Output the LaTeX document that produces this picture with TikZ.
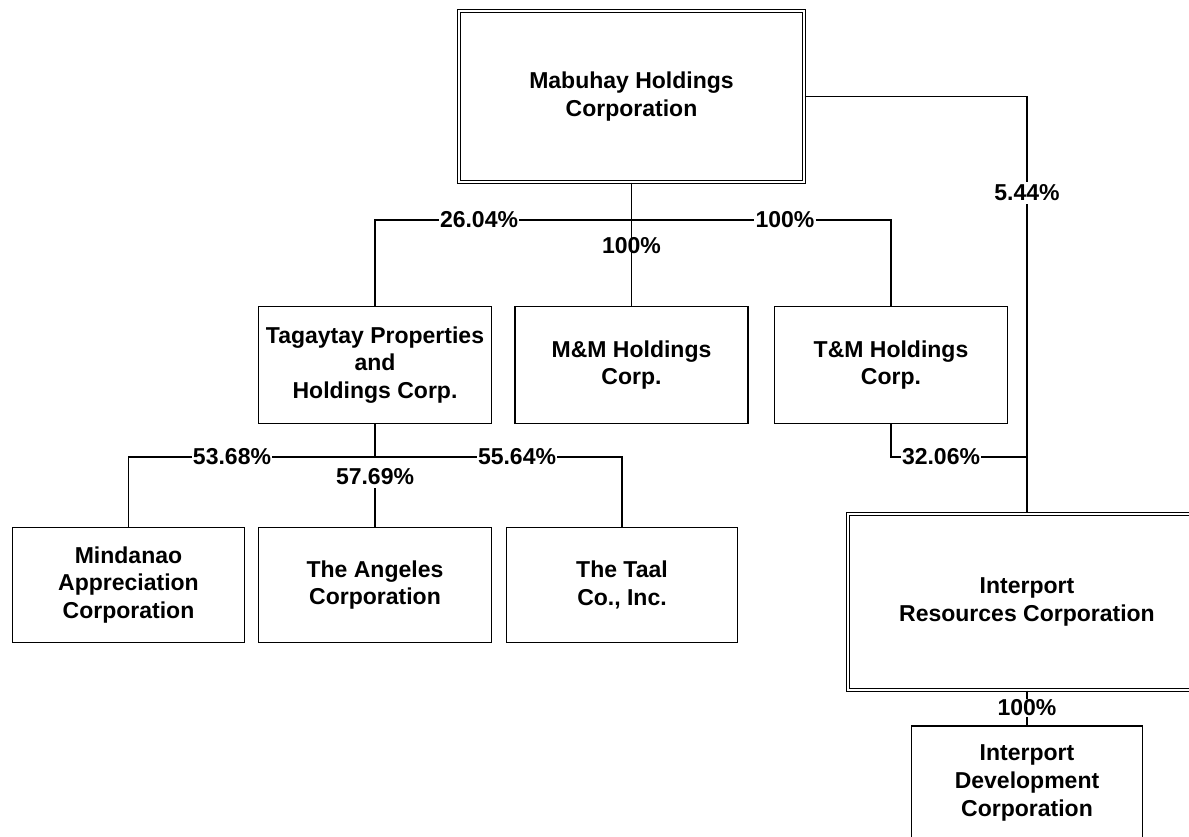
\documentclass[tikz,border=0pt]{standalone}
\usepackage{fontspec}
\setmainfont{Liberation Sans}
\begin{document}
\begin{tikzpicture}[x=1pt,y=-1pt,
  txt/.style={font=\bfseries\fontsize{23}{27.6}\selectfont},
  box/.style={txt, draw, line width=1.3pt, align=center, inner sep=0pt},
  dbox/.style={txt, draw, double, double distance=2.6pt, line width=1.1pt, align=center, inner sep=0pt},
  pct/.style={txt, fill=white, inner xsep=1pt, inner ysep=3pt},
  pctnf/.style={txt, inner sep=1pt},
  conn/.style={line width=1.2pt}]
\useasboundingbox (0,0) rectangle (1189,837);
\clip (0,0) rectangle (1189,837);
\fill[white] (0,0) rectangle (1189,837);
% boxes
\node[dbox, minimum width=345pt, minimum height=171pt] (mab) at (631.5,96.5) {Mabuhay Holdings\\Corporation};
\node[box, minimum width=233pt, minimum height=117pt] (tag) at (375,365) {Tagaytay Properties\\and\\Holdings Corp.};
\node[box, minimum width=233pt, minimum height=117pt] (mm) at (631.5,365) {M\&M Holdings\\Corp.};
\node[box, minimum width=233pt, minimum height=117pt] (tm) at (891,365) {T\&M Holdings\\Corp.};
\node[box, minimum width=232pt, minimum height=115pt] (min) at (128.5,585) {Mindanao\\Appreciation\\Corporation};
\node[box, minimum width=233pt, minimum height=115pt] (ang) at (375,585) {The Angeles\\Corporation};
\node[box, minimum width=231pt, minimum height=115pt] (taal) at (622,585) {The Taal\\Co., Inc.};
\node[dbox, minimum width=358pt, minimum height=176pt] (irc) at (1027,602) {Interport\\Resources Corporation};
\node[box, minimum width=231pt, minimum height=114pt] (idc) at (1027,783) {Interport\\Development\\Corporation};
% bus coordinates
\coordinate (bus1) at (631.5,220);
\coordinate (bus2) at (375,457);
% labels
\node[pct] (l1) at (1027,193) {5.44\%};
\node[pct] (l3) at (479,220) {26.04\%};
\node[pct] (l4) at (785,220) {100\%};
\node[pct] (l5) at (375,477) {57.69\%};
\node[pct] (l6) at (232,457) {53.68\%};
\node[pct] (l7) at (517,457) {55.64\%};
\node[pct] (l8) at (941,457) {32.06\%};
\node[pct, inner ysep=1pt] (l9) at (1027,708) {100\%};
% connectors
\draw[conn] (mab.east) -| (l1.north);
\draw[conn] (l1.south) -- (irc.north);
\draw[conn] (mab.south) -- (mm.north);
\draw[conn] (bus1) -- (l3.east);
\draw[conn] (l3.west) -| (tag.north);
\draw[conn] (bus1) -- (l4.west);
\draw[conn] (l4.east) -| (tm.north);
\draw[conn] (tag.south) -- (bus2);
\draw[conn] (l5.south) -- (ang.north);
\draw[conn] (bus2) -- (l6.east);
\draw[conn] (l6.west) -| (min.north);
\draw[conn] (bus2) -- (l7.west);
\draw[conn] (l7.east) -| (taal.north);
\draw[conn] (tm.south) |- (l8.west);
\draw[conn] (l8.east) -- (irc.north |- l8.east);
\draw[conn] (irc.south) -- (l9.north);
\draw[conn] (l9.south) -- (idc.north);
\node[pctnf] (l2) at (631.5,246) {100\%};
\end{tikzpicture}
\end{document}
